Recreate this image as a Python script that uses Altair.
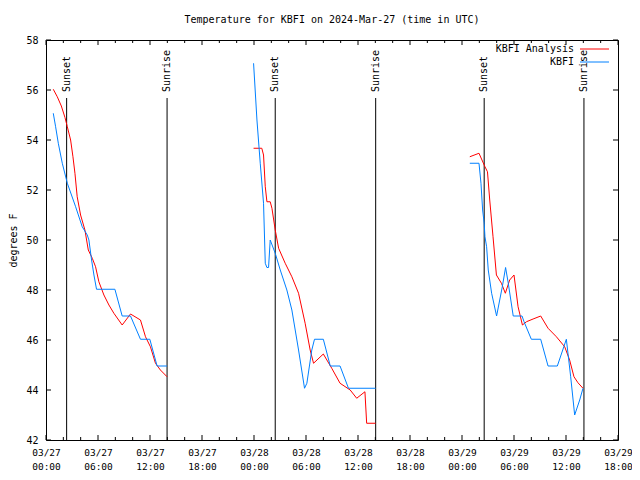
import json
import altair as alt
import pandas as pd

# ---------------- data (hours since 03/27 00:00 UTC, degrees F) ----------------
series_names = ["KBFI Analysis", "KBFI"]
series_colors = ["#ff0000", "#0080ff"]

ana_t1 = [0.84, 1.3, 1.77, 2.19, 2.46, 2.84, 3.11, 3.34, 3.6, 3.99, 4.49, 4.88, 5.34, 5.72,
          6.1, 6.68, 7.26, 7.83, 8.79, 9.75, 10.9, 11.48, 12.05, 12.63, 13.2, 13.97]
ana_v1 = [56.03, 55.73, 55.36, 54.9, 54.53, 54.0, 53.33, 52.67, 51.73, 51.0, 50.4, 49.6, 49.27, 48.93,
          48.33, 47.8, 47.4, 47.07, 46.6, 47.04, 46.8, 46.13, 45.73, 45.07, 44.8, 44.53]
ana_t2 = [23.95, 24.9, 25.1, 25.3, 25.49, 25.87, 26.07, 26.45, 26.84, 27.6, 28.37, 29.14, 29.9,
          30.48, 30.87, 32.0, 32.97, 33.93, 35.1, 35.85, 36.8, 37.0, 38.04]
ana_v2 = [53.67, 53.67, 53.4, 52.13, 51.53, 51.53, 51.27, 50.4, 49.67, 49.07, 48.53, 47.87, 46.67,
          45.6, 45.07, 45.44, 44.87, 44.27, 44.0, 43.67, 43.93, 42.67, 42.67]
ana_t3 = [48.9, 49.96, 50.65, 50.94, 51.2, 51.58, 51.97, 52.55, 53.0, 53.5, 54.0, 54.47, 54.97,
          55.43, 56.2, 57.08, 57.93, 58.89, 59.85, 60.42, 60.92, 61.38, 61.96]
ana_v3 = [53.33, 53.47, 52.93, 52.73, 51.6, 50.13, 48.6, 48.27, 47.87, 48.4, 48.6, 47.33, 46.6,
          46.73, 46.84, 46.96, 46.47, 46.13, 45.73, 45.2, 44.53, 44.29, 44.07]

obs_t1 = [0.84, 1.11, 1.42, 1.88, 2.46, 3.42, 4.18, 4.76, 4.95, 5.26, 5.53, 5.83, 7.95, 8.79,
          9.75, 10.9, 11.98, 12.82, 13.97]
obs_v1 = [55.07, 54.53, 53.87, 53.07, 52.27, 51.33, 50.53, 50.2, 50.0, 49.2, 48.6, 48.03, 48.03, 46.96,
          46.96, 46.03, 46.03, 44.96, 44.96]
obs_t2 = [23.95, 24.34, 24.72, 25.1, 25.3, 25.49, 25.68, 25.87, 26.45, 27.03, 27.79, 28.37, 29.14,
          29.83, 30.1, 30.67, 30.98, 32.0, 32.8, 33.93, 34.9, 38.04]
obs_v2 = [57.07, 54.8, 53.07, 51.47, 49.07, 48.9, 48.9, 50.0, 49.47, 48.8, 48.0, 47.2, 45.6,
          44.07, 44.27, 45.6, 46.03, 46.03, 44.96, 44.96, 44.07, 44.07]
obs_t3 = [48.9, 49.96, 50.19, 50.38, 50.56, 50.65, 50.84, 51.03, 51.42, 51.99, 52.65, 53.03, 53.34,
          53.91, 54.93, 55.16, 56.0, 57.08, 57.93, 59.0, 60.04, 60.54, 61.0, 61.58, 61.96]
obs_v3 = [53.07, 53.07, 52.27, 51.2, 50.67, 50.13, 49.73, 48.8, 47.87, 46.96, 48.13, 48.9, 48.27,
          46.96, 46.96, 46.73, 46.03, 46.03, 44.96, 44.96, 46.03, 44.53, 43.0, 43.6, 44.07]

sun_labels = ["Sunset", "Sunrise", "Sunset", "Sunrise", "Sunset", "Sunrise"]
sun_hours = [2.38, 13.97, 26.45, 38.04, 50.56, 62.07]

x_major = [0, 6, 12, 18, 24, 30, 36, 42, 48, 54, 60, 66]
x_minor = [2, 4, 8, 10, 14, 16, 20, 22, 26, 28, 32, 34, 38, 40, 44, 46, 50, 52, 56, 58, 62, 64]
x_tick_labels = [["03/27", "00:00"], ["03/27", "06:00"], ["03/27", "12:00"], ["03/27", "18:00"],
                 ["03/28", "00:00"], ["03/28", "06:00"], ["03/28", "12:00"], ["03/28", "18:00"],
                 ["03/29", "00:00"], ["03/29", "06:00"], ["03/29", "12:00"], ["03/29", "18:00"]]
y_ticks = [42, 44, 46, 48, 50, 52, 54, 56, 58]

title_text = "Temperature for KBFI on 2024-Mar-27 (time in UTC)"
y_title = "degrees F"

# ---------------- tables ----------------
def build(series, segs):
    rows = []
    for i, (ts, vs) in enumerate(segs):
        for t, v in zip(ts, vs):
            rows.append({"series": series, "seg": f"{series}-{i}", "hours": t, "temp": v})
    return pd.DataFrame(rows)

ana_df = build(series_names[0], [(ana_t1, ana_v1), (ana_t2, ana_v2), (ana_t3, ana_v3)])
obs_df = build(series_names[1], [(obs_t1, obs_v1), (obs_t2, obs_v2), (obs_t3, obs_v3)])
sun_df = pd.DataFrame({"hours": sun_hours, "label": sun_labels})
xmaj_df = pd.DataFrame({"hours": x_major})
xmin_df = pd.DataFrame({"hours": x_minor})
yt_df = pd.DataFrame({"temp": y_ticks})

MONO = "DejaVu Sans Mono"
W, H = 572, 400
PAD_L, PAD_T, PAD_R, PAD_B = 38, 32, 14, 32  # total width 624, height 464

label_expr = " : ".join(
    f"datum.value == {v} ? {json.dumps(lab)}" for v, lab in zip(x_major, x_tick_labels)
) + " : ''"

xscale = alt.Scale(domain=[0, 66], nice=False, zero=False)
yscale = alt.Scale(domain=[42, 58], nice=False, zero=False)

x_axis = alt.Axis(values=x_major, labelExpr=label_expr, title=None, grid=False, ticks=False,
                  tickSize=0, domain=False, labelPadding=7, labelLineHeight=14, labelFontSize=9.5,
                  labelAlign="center", labelBaseline="top", labelFlush=False, labelOverlap=False)
y_axis = alt.Axis(values=y_ticks, title=y_title, grid=False, ticks=False, tickSize=0, domain=False,
                  labelPadding=8, titleAngle=270, titleX=-33, titleY=H / 2, titleAlign="center",
                  titleBaseline="middle", labelOverlap=False)

X = alt.X("hours:Q", scale=xscale, axis=x_axis)
Y = alt.Y("temp:Q", scale=yscale, axis=y_axis)
color_scale = alt.Scale(domain=series_names, range=series_colors)


def line_layer(df):
    return alt.Chart(df).mark_line(strokeWidth=1).encode(
        x=X, y=Y,
        color=alt.Color("series:N", scale=color_scale, legend=None),
        detail="seg:N",
    )


sun_rules = alt.Chart(sun_df).mark_rule(color="black", strokeWidth=1).encode(
    x=X, y=alt.value(58), y2=alt.value(H)
)
sun_text = alt.Chart(sun_df).mark_text(
    angle=270, align="left", baseline="middle", font=MONO, fontSize=10, color="black"
).encode(x=X, y=alt.value(52), text="label:N")

tick_style = dict(color="black", strokeWidth=1)
xmaj_bot = alt.Chart(xmaj_df).mark_rule(**tick_style).encode(x=X, y=alt.value(H), y2=alt.value(H - 5))
xmaj_top = alt.Chart(xmaj_df).mark_rule(**tick_style).encode(x=X, y=alt.value(0), y2=alt.value(5))
xmin_bot = alt.Chart(xmin_df).mark_rule(**tick_style).encode(x=X, y=alt.value(H), y2=alt.value(H - 3))
xmin_top = alt.Chart(xmin_df).mark_rule(**tick_style).encode(x=X, y=alt.value(0), y2=alt.value(3))
yt_left = alt.Chart(yt_df).mark_rule(**tick_style).encode(y=Y, x=alt.value(0), x2=alt.value(5))
yt_right = alt.Chart(yt_df).mark_rule(**tick_style).encode(y=Y, x=alt.value(W), x2=alt.value(W - 5))

# legend (gnuplot style: label, then line sample)
leg_layers = []
for i, (name, col) in enumerate(zip(series_names, series_colors)):
    yy = 9 + 13 * i
    leg_layers.append(
        alt.Chart(pd.DataFrame({"series": [name]})).mark_text(
            align="right", baseline="middle", font=MONO, fontSize=10, color="black"
        ).encode(text="series:N", x=alt.value(W - 44), y=alt.value(yy))
    )
    leg_layers.append(
        alt.Chart(pd.DataFrame({"series": [name]})).mark_rule(color=col, strokeWidth=1).encode(
            x=alt.value(W - 38), x2=alt.value(W - 9), y=alt.value(yy)
        )
    )

chart = alt.layer(
    xmin_bot, xmin_top, xmaj_bot, xmaj_top, yt_left, yt_right,
    sun_rules, sun_text,
    line_layer(ana_df), line_layer(obs_df),
    *leg_layers,
).properties(
    width=W, height=H,
    title=alt.TitleParams(title_text, font=MONO, fontSize=10, fontWeight="normal",
                          anchor="middle", offset=10, color="black"),
    autosize=alt.AutoSizeParams(type="none"),
    padding={"left": PAD_L, "top": PAD_T, "right": PAD_R, "bottom": PAD_B},
).configure_view(
    stroke="black", strokeWidth=1
).configure_axis(
    labelFont=MONO, labelFontSize=10, labelColor="black",
    titleFont=MONO, titleFontSize=10, titleFontWeight="normal", titleColor="black",
)

chart.save("out.html", embed_options={"renderer": "svg", "actions": False})
